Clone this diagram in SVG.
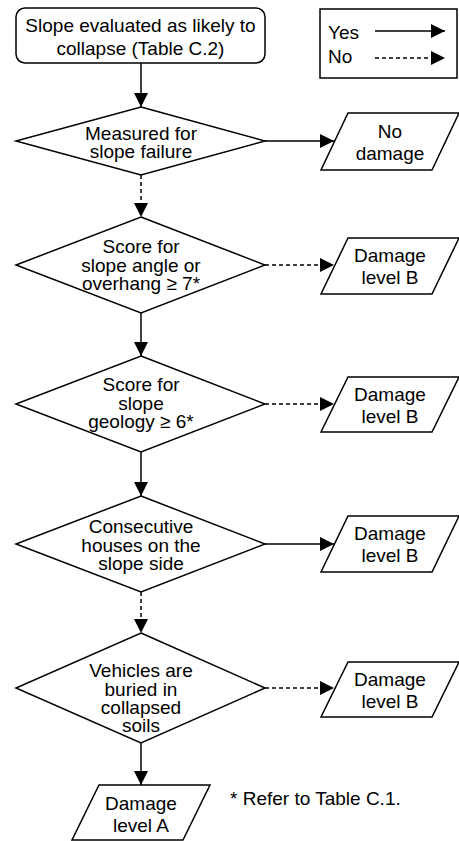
<svg xmlns="http://www.w3.org/2000/svg" width="459" height="841" viewBox="0 0 459 841">
<style>
.s{fill:#fff;stroke:#000;stroke-width:1.5}
.t{font-family:"Liberation Sans",Arial,sans-serif;font-size:19px;fill:#000;text-anchor:middle}
.l{text-anchor:start}
.c{fill:none;stroke:#000;stroke-width:1.5}
.d{stroke-dasharray:4,3}
</style>
<defs>
<marker id="a" markerUnits="userSpaceOnUse" markerWidth="14" markerHeight="14" refX="14" refY="7" orient="auto">
<path d="M0,0 L14,7 L0,14 z" fill="#000"/>
</marker>
</defs>
<rect width="459" height="841" fill="#fff"/>
<g id="connectors">
<line class="c" x1="141" y1="63" x2="141" y2="107" marker-end="url(#a)"/>
<line class="c" x1="265" y1="141" x2="334" y2="141" marker-end="url(#a)"/>
<line class="c d" x1="141" y1="175" x2="141" y2="217" marker-end="url(#a)"/>
<line class="c d" x1="265" y1="265" x2="334" y2="265" marker-end="url(#a)"/>
<line class="c" x1="141" y1="313" x2="141" y2="356" marker-end="url(#a)"/>
<line class="c d" x1="265" y1="404" x2="334" y2="404" marker-end="url(#a)"/>
<line class="c" x1="141" y1="452" x2="141" y2="496" marker-end="url(#a)"/>
<line class="c" x1="265" y1="544" x2="334" y2="544" marker-end="url(#a)"/>
<line class="c d" x1="141" y1="592" x2="141" y2="633" marker-end="url(#a)"/>
<line class="c d" x1="265" y1="688" x2="334" y2="688" marker-end="url(#a)"/>
<line class="c" x1="141" y1="743" x2="141" y2="785" marker-end="url(#a)"/>
</g>
<g id="legend">
<rect class="s" x="320" y="9" width="137" height="69"/>
<text class="t l" x="328" y="38.5">Yes</text>
<text class="t l" x="328" y="62.5">No</text>
<line class="c" x1="375" y1="31" x2="445" y2="31" marker-end="url(#a)"/>
<line class="c d" x1="375" y1="58" x2="445" y2="58" marker-end="url(#a)"/>
</g>
<g id="start">
<rect class="s" x="16" y="8" width="249" height="55" rx="9"/>
<text class="t" x="140.5" y="31.5">Slope evaluated as likely to</text>
<text class="t" x="140.5" y="55">collapse (Table C.2)</text>
</g>
<g id="d1">
<polygon class="s" points="141,107 265,141 141,175 16,141"/>
<text class="t" x="141" y="139.5">Measured for</text>
<text class="t" x="141" y="158">slope failure</text>
</g>
<g id="p1">
<polygon class="s" points="348,113 459,113 432,170 321,170"/>
<text class="t" x="390" y="137.5">No</text>
<text class="t" x="390" y="160">damage</text>
</g>
<g id="d2">
<polygon class="s" points="141,217 265,265 141,313 16,265"/>
<text class="t" x="141" y="253">Score for</text>
<text class="t" x="141" y="271.5">slope angle or</text>
<text class="t" x="141" y="290">overhang ≥ 7*</text>
</g>
<g id="p2">
<polygon class="s" points="348,238 459,238 432,294 321,294"/>
<text class="t" x="390" y="262">Damage</text>
<text class="t" x="390" y="284">level B</text>
</g>
<g id="d3">
<polygon class="s" points="141,356 265,404 141,452 16,404"/>
<text class="t" x="141" y="391">Score for</text>
<text class="t" x="141" y="409.5">slope</text>
<text class="t" x="141" y="428">geology ≥ 6*</text>
</g>
<g id="p3">
<polygon class="s" points="348,377 459,377 432,432 321,432"/>
<text class="t" x="390" y="401">Damage</text>
<text class="t" x="390" y="423">level B</text>
</g>
<g id="d4">
<polygon class="s" points="141,496 265,544 141,592 16,544"/>
<text class="t" x="141" y="533">Consecutive</text>
<text class="t" x="141" y="551.5">houses on the</text>
<text class="t" x="141" y="570">slope side</text>
</g>
<g id="p4">
<polygon class="s" points="348,516 459,516 432,572 321,572"/>
<text class="t" x="390" y="540">Damage</text>
<text class="t" x="390" y="562">level B</text>
</g>
<g id="d5">
<polygon class="s" points="141,633 265,688 141,743 16,688"/>
<text class="t" x="141" y="677">Vehicles are</text>
<text class="t" x="141" y="695.5">buried in</text>
<text class="t" x="141" y="714">collapsed</text>
<text class="t" x="141" y="732">soils</text>
</g>
<g id="p5">
<polygon class="s" points="348,662 459,662 432,717 321,717"/>
<text class="t" x="390" y="685.5">Damage</text>
<text class="t" x="390" y="707.5">level B</text>
</g>
<g id="pA">
<polygon class="s" points="99,785 210,785 183,840 72,840"/>
<text class="t" x="141" y="810">Damage</text>
<text class="t" x="141" y="832">level A</text>
</g>
<g id="note">
<text class="t l" x="230" y="805">* Refer to Table C.1.</text>
</g>
</svg>
